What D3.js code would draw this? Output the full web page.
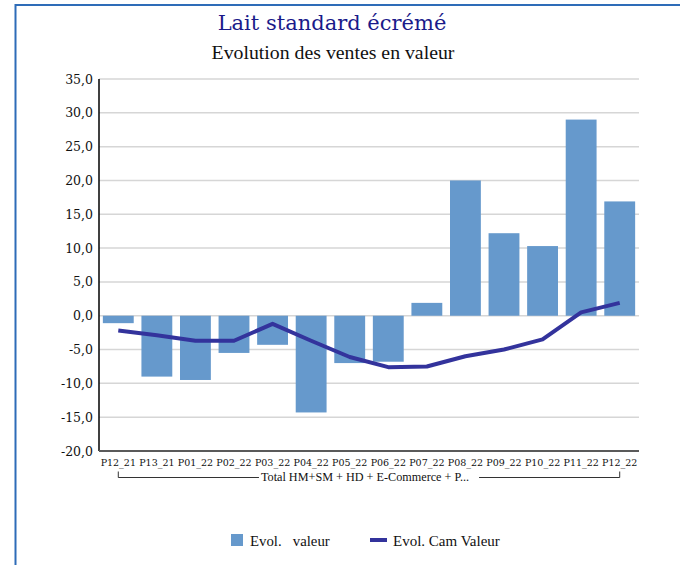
<!DOCTYPE html>
<html><head><meta charset="utf-8">
<script src="https://cdn.jsdelivr.net/npm/d3@7"></script>
<style>html,body{margin:0;padding:0;background:#fff;}svg{display:block;}</style>
</head><body>
<svg id="chart" width="680" height="565"></svg>
<script>
const categories = ["P12_21","P13_21","P01_22","P02_22","P03_22","P04_22","P05_22","P06_22","P07_22","P08_22","P09_22","P10_22","P11_22","P12_22"];
const evolValeur = [-1.1,-9.0,-9.5,-5.5,-4.3,-14.3,-7.0,-6.8,1.9,20.0,12.2,10.3,29.0,16.9];
const evolCamValeur = [-2.2,-2.9,-3.7,-3.7,-1.2,-3.7,-6.1,-7.6,-7.5,-6.0,-5.0,-3.5,0.5,1.9];
const yTicks = [-20,-15,-10,-5,0,5,10,15,20,25,30,35];
const groupLabel = "Total HM+SM + HD + E-Commerce + P...";
const title = "Lait standard écrémé";
const subtitle = "Evolution des ventes en valeur";
const legendLabels = ["Evol.   valeur","Evol. Cam Valeur"];

const svg = d3.select("#chart");
const pL = 99, pR = 639, pT = 79, pB = 451;
const x = d3.scaleBand().domain(categories).range([pL,pR]).paddingInner(0.2).paddingOuter(0.1);
const y = d3.scaleLinear().domain([-20,35]).range([pB,pT]);
const fmt = v => d3.format(".1f")(v).replace(".",",").replace("−","-");

// frame
svg.append("line").attr("x1",15).attr("x2",680).attr("y1",5).attr("y2",5).attr("stroke","#2e6cb8").attr("stroke-width",2);
svg.append("line").attr("x1",15.5).attr("x2",15.5).attr("y1",4).attr("y2",565).attr("stroke","#2e6cb8").attr("stroke-width",2);

// titles
svg.append("text").attr("x",332).attr("y",30).attr("text-anchor","middle")
  .attr("font-family","DejaVu Serif").attr("font-size",21).attr("fill","#1a1a8a").text(title);
svg.append("text").attr("x",333).attr("y",59).attr("text-anchor","middle")
  .attr("font-family","Liberation Serif").attr("font-size",19.8).attr("fill","#111").text(subtitle);

// grid
svg.append("g").selectAll("line").data(yTicks.filter(t=>t>-20)).join("line")
  .attr("x1",pL).attr("x2",pR).attr("y1",d=>y(d)).attr("y2",d=>y(d))
  .attr("stroke","#d6d6d6").attr("stroke-width",1.5);

// y axis
const yAxis = d3.axisLeft(y).tickValues(yTicks).tickFormat(fmt).tickSize(0).tickPadding(6);
const gy = svg.append("g").attr("transform",`translate(${pL},0)`).call(yAxis);
gy.select(".domain").remove();
gy.selectAll("text").attr("font-family","DejaVu Serif").attr("font-size",12.5).attr("fill","#111");

// bars
svg.append("g").selectAll("rect").data(evolValeur).join("rect")
  .attr("x",(d,i)=>x(categories[i])).attr("width",x.bandwidth())
  .attr("y",d=>y(Math.max(0,d))).attr("height",d=>Math.abs(y(d)-y(0)))
  .attr("fill","#6699cc");

// axis lines
svg.append("line").attr("x1",pL).attr("x2",pL).attr("y1",pT).attr("y2",pB).attr("stroke","#000").attr("stroke-width",1.5);
svg.append("line").attr("x1",pL).attr("x2",pR).attr("y1",pB).attr("y2",pB).attr("stroke","#5a5a5a").attr("stroke-width",2);

// line
const line = d3.line().x((d,i)=>x(categories[i])+x.bandwidth()/2).y(d=>y(d));
svg.append("path").datum(evolCamValeur).attr("d",line).attr("fill","none")
  .attr("stroke","#33339c").attr("stroke-width",4).attr("stroke-linejoin","round");

// x axis labels
const xAxis = d3.axisBottom(x).tickSize(0).tickPadding(8);
const gx = svg.append("g").attr("transform",`translate(0,${pB})`).call(xAxis);
gx.select(".domain").remove();
gx.selectAll("text").attr("font-family","DejaVu Serif").attr("font-size",9.5).attr("fill","#111");

// group bracket
const cx0 = x(categories[0])+x.bandwidth()/2, cx1 = x(categories[categories.length-1])+x.bandwidth()/2;
const gt = svg.append("text").attr("x",(cx0+cx1)/2-4).attr("y",481).attr("text-anchor","middle")
  .attr("font-family","Liberation Serif").attr("font-size",12.2).attr("fill","#111").text(groupLabel);
const bb = gt.node().getBBox();
const by = 477.5;
svg.append("path").attr("d",`M${cx0},471.5V${by}H${bb.x-2}M${bb.x+bb.width+10},${by}H${cx1}V471.5`)
  .attr("fill","none").attr("stroke","#333").attr("stroke-width",1);

// legend
svg.append("rect").attr("x",231).attr("y",534).attr("width",12).attr("height",12).attr("fill","#6699cc");
svg.append("text").attr("x",250).attr("y",545.5).attr("font-family","Liberation Serif").attr("font-size",14.8)
  .attr("fill","#111").attr("xml:space","preserve").style("white-space","pre").text(legendLabels[0]);
svg.append("line").attr("x1",370).attr("x2",387).attr("y1",540).attr("y2",540).attr("stroke","#33339c").attr("stroke-width",4);
svg.append("text").attr("x",393).attr("y",545.5).attr("font-family","Liberation Serif").attr("font-size",15)
  .attr("fill","#111").text(legendLabels[1]);
</script>
</body></html>
